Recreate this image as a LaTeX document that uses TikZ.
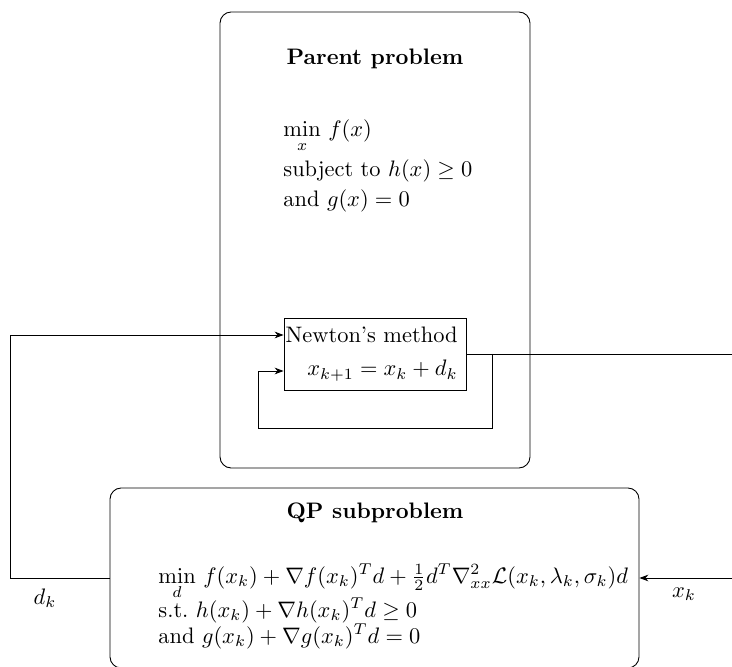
\documentclass[tikz,border=0pt]{standalone}
\usepackage{amsmath,amssymb}
\usetikzlibrary{arrows.meta,fit}
\begin{document}
\begin{tikzpicture}[x=0.4464pt,y=-0.4464pt,
  bigbox/.style={draw, rounded corners=5pt, inner sep=0pt},
  smallbox/.style={draw, inner sep=0pt},
  conn/.style={-{Stealth[length=4pt,width=3pt]}},
  txt/.style={anchor=base west, inner sep=0pt},
  lbl/.style={inner sep=0pt}
]
\useasboundingbox (0,0) rectangle (732,667);
% Parent problem
\node[bigbox, fit={(220,12)(530,468)}] (parent) {};
\node[lbl, font=\bfseries] (ptitle) at (375,59) {Parent problem};
\node[txt] (pmin) at (283,137) {$\min\limits_{x}\, f(x)$};
\node[txt] (psub) at (283,177) {subject to $h(x)\geq 0$};
\node[txt] (pand) at (283,207) {and $g(x)=0$};
% Newton box
\node[smallbox, fit={(284,318)(466,390)}] (newton) {};
\node[anchor=base east, inner sep=0pt] (ntitle) at (458,343) {Newton's method};
\node[anchor=base east, inner sep=0pt] (nupd) at (458,376) {$x_{k+1}=x_k+d_k$};
% QP box
\node[bigbox, fit={(110,488)(639,668)}] (qp) {};
\node[lbl, font=\bfseries] (qtitle) at (375,513) {QP subproblem};
\node[txt] (qmin) at (158,583) {$\min\limits_{d}\, f(x_k)+\nabla f(x_k)^T d+\frac{1}{2}d^T\nabla^2_{xx}\mathcal{L}(x_k,\lambda_k,\sigma_k)d$};
\node[txt] (qst) at (158,617) {s.t.\ $h(x_k)+\nabla h(x_k)^T d\geq 0$};
\node[txt] (qand) at (158,643) {and $g(x_k)+\nabla g(x_k)^T d=0$};
% coordinates
\coordinate (c1) at (10,335);
\coordinate (outr) at (732,0);
\coordinate (fb1) at (492,428);
\coordinate (fb2) at (258,371);
\coordinate (xin) at (732,578);
% connectors
\draw[conn] (qp.west) -| (c1) -- (c1 -| newton.west);
\node[lbl] (dk) at (45,598) {$d_k$};
\draw (newton.east) -- (newton.east -| outr);
\draw[conn] (newton.east -| fb1) -- (fb1) -| (fb2) -- (fb2 -| newton.west);
\draw[conn] (xin) -- (qp.east);
\node[lbl] (xk) at (684,594) {$x_k$};
\end{tikzpicture}
\end{document}
